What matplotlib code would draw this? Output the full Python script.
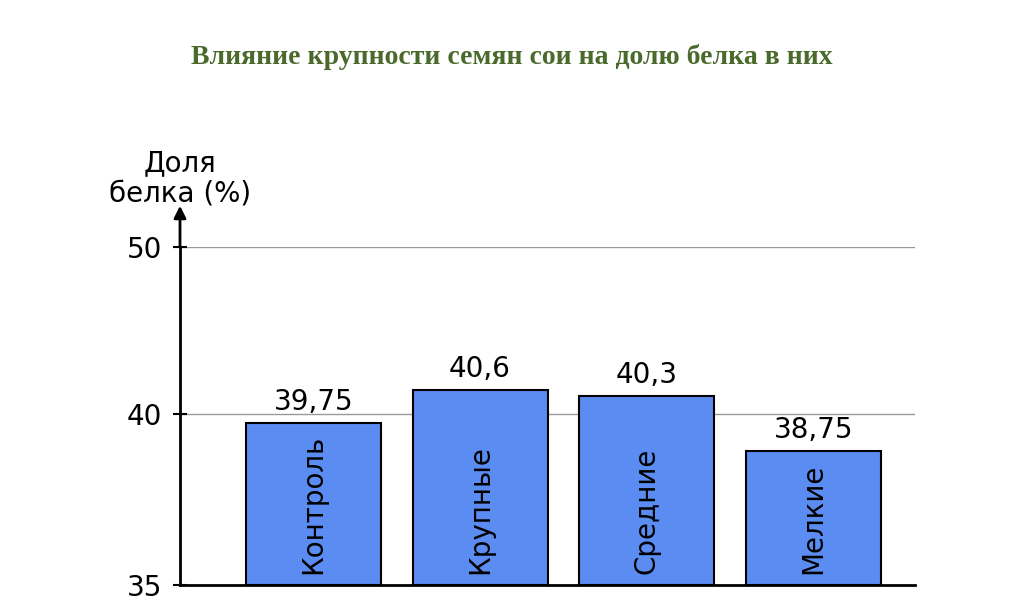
import numpy as np
import matplotlib
matplotlib.use("Agg")
import matplotlib.pyplot as plt

categories = ["Контроль", "Крупные", "Средние", "Мелкие"]
values = [39.75, 40.6, 40.3, 38.75]
value_labels = ["39,75", "40,6", "40,3", "38,75"]
yticks = [35, 40, 50]

# illustrative (non-linear) value axis as drawn in the reference
sv = np.array([35, 38.75, 39.75, 40, 40.3, 40.6, 50, 53])
sp = np.array([0, 134, 162, 171, 189, 195, 338, 383.0])
fwd = lambda v: np.interp(v, sv, sp)
inv = lambda p: np.interp(p, sp, sv)

fig = plt.figure(figsize=(10.24, 6.12), dpi=100)
ax = fig.add_axes([180/1024, 1-585/612, (915-180)/1024, (585-247)/612])
ax.set_yscale("function", functions=(fwd, inv))
ax.set_ylim(35, 50)
ax.set_xlim(-0.8, 3.61)
x = np.arange(len(categories))
ax.bar(x, [v - 35 for v in values], bottom=35, width=0.81, color="#5b8cf2", edgecolor="black", linewidth=1.5, zorder=3)
for xi, c, vl, v in zip(x, categories, value_labels, values):
    ax.text(xi, 35.3, c, rotation=90, ha="center", va="bottom", fontsize=20, zorder=4)
    ax.text(xi, v, vl, ha="center", va="bottom", fontsize=20, zorder=4, transform=ax.transData) if False else None
    ax.annotate(vl, (xi, v), xytext=(0, 5), textcoords="offset points", ha="center", va="bottom", fontsize=20)
ax.set_yticks(yticks)
ax.set_yticklabels([str(t) for t in yticks], fontsize=20)
ax.tick_params(axis="y", length=10, width=1.5, direction="inout", pad=8)
ax.set_xticks([])
for t in [40, 50]:
    ax.axhline(t, color="#999999", lw=1, zorder=1)
for s in ["top", "right"]:
    ax.spines[s].set_visible(False)
ax.spines["left"].set_linewidth(2)
ax.spines["bottom"].set_linewidth(2)
ax.annotate("", xy=(180/1024, 1-203/612), xytext=(180/1024, 1-250/612), xycoords="figure fraction",
            arrowprops=dict(arrowstyle="-|>", color="black", lw=2, mutation_scale=18))
fig.text(180/1024, 1-178/612, "Доля\nбелка (%)", ha="center", va="center", fontsize=20, linespacing=1.1)
fig.text(0.5, 1-57/612, "Влияние крупности семян сои на долю белка в них", ha="center", va="center",
         fontsize=20, fontweight="bold", family="Liberation Serif", color="#4a6a2c")
fig.savefig("out.png", dpi=100)
